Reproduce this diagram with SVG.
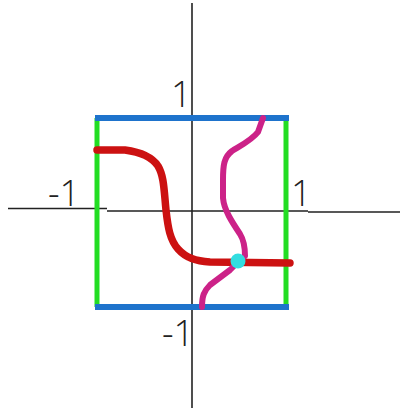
<svg xmlns="http://www.w3.org/2000/svg" width="404" height="417" viewBox="0 0 404 417">
<style>
.ax{stroke:#222;stroke-width:1.6;fill:none}
.lbl{font-family:"Open Sans","Liberation Sans",Arial,sans-serif;font-size:36px;fill:#222;font-weight:300}
.curve{fill:none;stroke-linecap:round;stroke-linejoin:round}
</style>
<rect width="404" height="417" fill="#ffffff"/>
<g id="axes">
<path class="ax" d="M192,3 V408"/>
<path class="ax" d="M8,208.5 H107 M107,211 H308 M308,212 H400"/>
</g>
<g id="box">
<path d="M97,118 V307 M286,118 V307" stroke="#22dd22" stroke-width="5" fill="none"/>
<path d="M95,118 H289 M95,307 H289" stroke="#1e73cc" stroke-width="6" fill="none"/>
</g>
<g id="connectors">
<path class="curve" stroke="#cc1111" stroke-width="7.5" d="M97,150 L125,150 C140,152 152,157 158,166 C164,176 164,190 166,210 C168,228 170,240 178,249 C186,258 196,261 210,262 L290,263"/>
<path class="curve" stroke="#cc2288" stroke-width="6" d="M263,118 L258,132 C252,140 240,146 232,151 C224,157 223,165 223,180 L223,198 C224,210 232,222 240,234 C245,242 245,250 245,256 L238,262 L230,270 L210,285 C204,291 202,296 202,307"/>
<circle cx="238" cy="261" r="7.5" fill="#33dde0"/>
</g>
<g id="labels">
<text class="lbl" x="171" y="107">1</text>
<text class="lbl" x="48" y="206">-1</text>
<text class="lbl" x="291" y="206">1</text>
<text class="lbl" x="162" y="346">-1</text>
</g>
</svg>
